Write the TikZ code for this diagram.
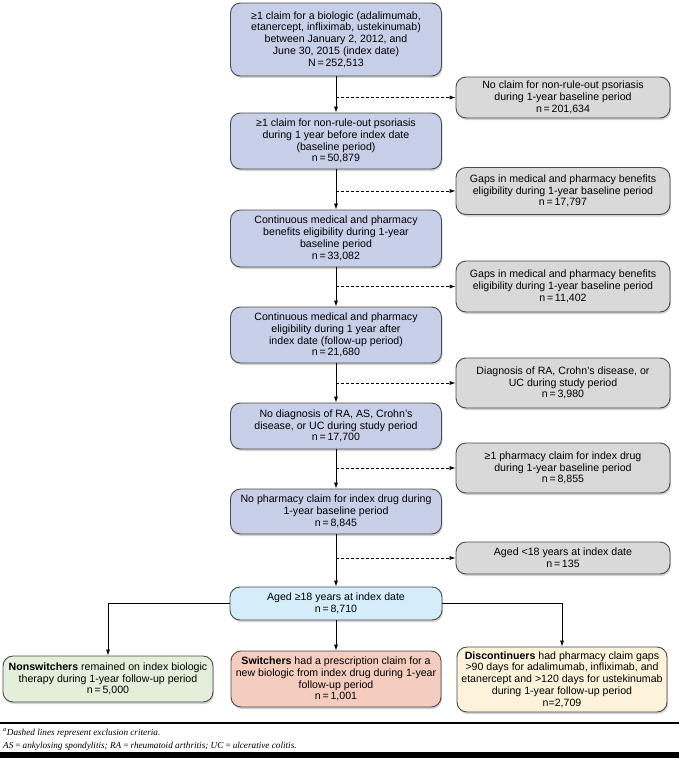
\documentclass[tikz,border=0pt]{standalone}
\usepackage{fontspec}
\setmainfont{Liberation Serif}
\setsansfont{Liberation Sans}
\usetikzlibrary{arrows.meta,shadows}
\definecolor{boxblue}{HTML}{C8CFE8}
\definecolor{boxgray}{HTML}{D9D9D9}
\definecolor{agedblue}{HTML}{D3EEFA}
\definecolor{nsgreen}{HTML}{E3EFDA}
\definecolor{swred}{HTML}{F4CDBE}
\definecolor{dcyellow}{HTML}{FDF2DA}
\definecolor{edgegray}{HTML}{4A4A4A}

\begin{document}
\begin{tikzpicture}[
    x=1pt,y=-1pt,
    box/.style={draw=edgegray, line width=0.9pt, rounded corners=10pt, align=center, inner sep=2pt,
      font=\sffamily\fontsize{10.6}{11.8}\selectfont,
      drop shadow={shadow xshift=1pt, shadow yshift=-2pt, opacity=0.35}},
    mainbox/.style={box, fill=boxblue, minimum width=211pt},
    exclbox/.style={box, fill=boxgray, minimum width=214pt},
    endbox/.style={box, minimum width=210pt},
    arr/.style={-{Latex[length=6pt,width=4pt]}, line width=0.7pt},
    excl/.style={arr, dash pattern=on 3pt off 2pt}
    ]
    \useasboundingbox (0,0) rectangle (679,758);
    \node[mainbox, minimum height=73pt] (b1) at (336, 39.5) {≥1 claim for a biologic (adalimumab,\\etanercept, infliximab, ustekinumab)\\between January 2, 2012, and\\June 30, 2015 (index date)\\N\,=\,252,513};
    \node[mainbox, minimum height=56pt] (b2) at (336, 141) {≥1 claim for non-rule-out psoriasis\\during 1 year before index date\\(baseline period)\\n\,=\,50,879};
    \node[mainbox, minimum height=57pt] (b3) at (336, 238.5) {Continuous medical and pharmacy\\benefits eligibility during 1-year\\baseline period\\n\,=\,33,082};
    \node[mainbox, minimum height=56pt] (b4) at (336, 335) {Continuous medical and pharmacy\\eligibility during 1 year after\\index date (follow-up period)\\n\,=\,21,680};
    \node[mainbox, minimum height=46pt] (b5) at (336, 426) {No diagnosis of RA, AS, Crohn's\\disease, or UC during study period\\n\,=\,17,700};
    \node[mainbox, minimum height=45pt] (b6) at (336, 511.5) {No pharmacy claim for index drug during\\1-year baseline period\\n\,=\,8,845};
    \node[box, fill=agedblue, minimum width=212pt, minimum height=33pt] (aged) at (336, 603.5) {Aged ≥18 years at index date\\n\,=\,8,710};

    \node[exclbox, minimum height=41pt] (g1) at (563, 97.5) {No claim for non-rule-out psoriasis\\during 1-year baseline period\\n\,=\,201,634};
    \node[exclbox, minimum height=47pt] (g2) at (563, 191) {Gaps in medical and pharmacy benefits\\eligibility during 1-year baseline period\\n\,=\,17,797};
    \node[exclbox, minimum height=51pt] (g3) at (563, 286.5) {Gaps in medical and pharmacy benefits\\eligibility during 1-year baseline period\\n\,=\,11,402};
    \node[exclbox, minimum height=50pt] (g4) at (563, 383) {Diagnosis of RA, Crohn's disease, or\\UC during study period\\n\,=\,3,980};
    \node[exclbox, minimum height=50pt] (g5) at (563, 468) {≥1 pharmacy claim for index drug\\during 1-year baseline period\\n\,=\,8,855};
    \node[exclbox, minimum height=32pt] (g6) at (563, 558) {Aged <18 years at index date\\n\,=\,135};

    \node[endbox, fill=nsgreen, minimum height=46pt] (ns) at (108, 679) {\textbf{Nonswitchers} remained on index biologic\\therapy during 1-year follow-up period\\n\,=\,5,000};
    \node[endbox, fill=swred, minimum height=56pt] (sw) at (336, 679) {\textbf{Switchers} had a prescription claim for a\\new biologic from index drug during 1-year\\follow-up period\\n\,=\,1,001};
    \node[endbox, fill=dcyellow, minimum height=65pt] (dc) at (562, 679.5) {\textbf{Discontinuers} had pharmacy claim gaps\\>90 days for adalimumab, infliximab, and\\etanercept and >120 days for ustekinumab\\during 1-year follow-up period\\n=2,709};

    \draw[arr] (b1) -- (b2);
    \draw[arr] (b2) -- (b3);
    \draw[arr] (b3) -- (b4);
    \draw[arr] (b4) -- (b5);
    \draw[arr] (b5) -- (b6);
    \draw[arr] (b6) -- (aged);
    \draw[excl] (b1.south |- g1.west) -- (g1.west);
    \draw[excl] (b2.south |- g2.west) -- (g2.west);
    \draw[excl] (b3.south |- g3.west) -- (g3.west);
    \draw[excl] (b4.south |- g4.west) -- (g4.west);
    \draw[excl] (b5.south |- g5.west) -- (g5.west);
    \draw[excl] (b6.south |- g6.west) -- (g6.west);
    \draw[arr] (aged.west) -| (ns.north);
    \draw[arr] (aged) -- (sw);
    \draw[arr] (aged.east) -| (dc.north);

    \draw[line width=1.2pt] (0, 723) -- (679, 723);
    \node[anchor=base west, inner sep=0pt, font=\itshape\fontsize{9.2}{10}\selectfont] (note1) at (3, 735) {\textsuperscript{a}Dashed lines represent exclusion criteria.};
    \node[anchor=base west, inner sep=0pt, font=\itshape\fontsize{9.2}{10}\selectfont] (note2) at (3, 748) {AS\,=\,ankylosing spondylitis; RA\,=\,rheumatoid arthritis; UC\,=\,ulcerative colitis.};
    \fill (0, 752) rectangle (679, 758);
  \end{tikzpicture}
\end{document}
